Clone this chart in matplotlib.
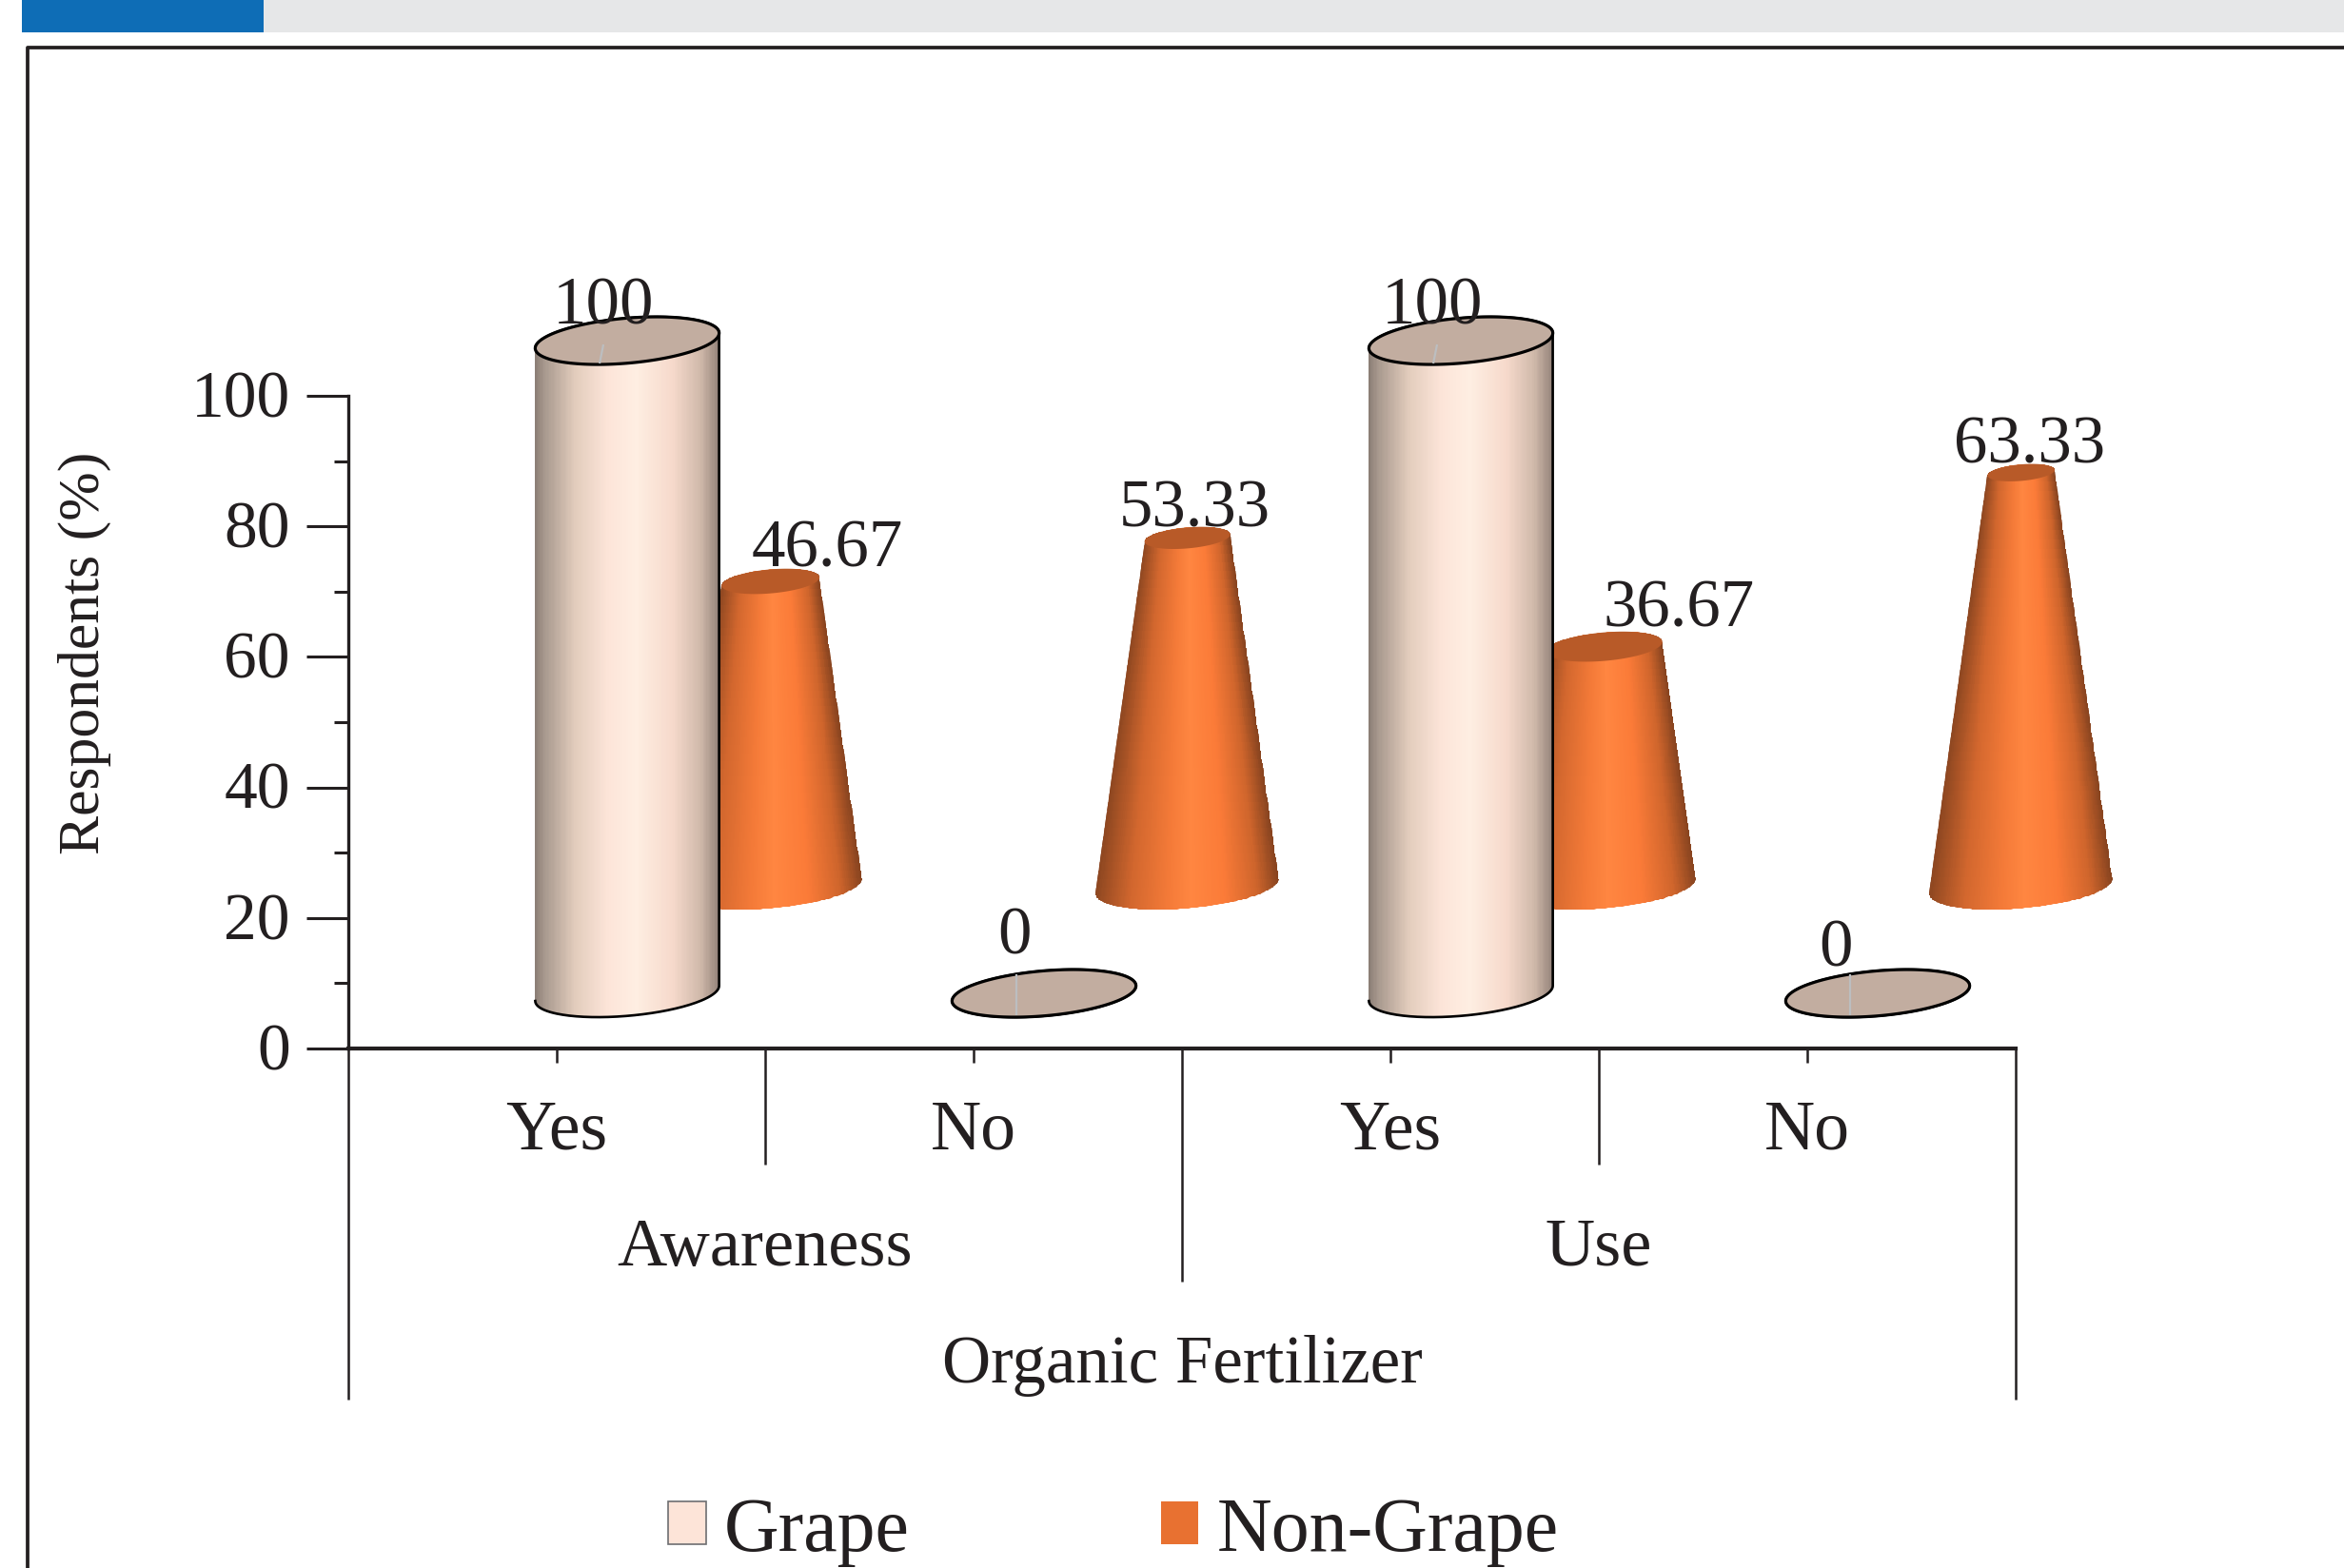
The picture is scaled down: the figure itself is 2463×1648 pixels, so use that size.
import numpy as np
import matplotlib
matplotlib.use('Agg')
import matplotlib.pyplot as plt
from matplotlib.colors import LinearSegmentedColormap
from matplotlib.patches import Patch, Rectangle, Polygon
from matplotlib.path import Path
from matplotlib.transforms import ScaledTranslation

answers = ['Yes', 'No', 'Yes', 'No']
groups = ['Awareness', 'Use']
title_below = 'Organic Fertilizer'
grape = [100, 0, 100, 0]
non_grape = [46.67, 53.33, 36.67, 63.33]

W, H = 2463, 1649
TEXT = '#231F20'
FS = 51
# pixels per unit on the two axes
PX_X = 438.0
PX_Y = 6.86

plt.rcParams['font.family'] = ['Liberation Serif', 'DejaVu Serif']

grape_cmap = LinearSegmentedColormap.from_list('grape', [
    (0.0, '#8c7f76'), (0.05, '#a8998e'), (0.22, '#e3cdbd'), (0.4, '#fde5d9'),
    (0.55, '#feeee2'), (0.75, '#f6d9cb'), (0.9, '#d0b9aa'), (1.0, '#94837a')])
cone_cmap = LinearSegmentedColormap.from_list('cone', [
    (0.0, '#8a4520'), (0.2, '#d2672e'), (0.4, '#f47a38'), (0.52, '#ff8641'),
    (0.7, '#fb7b38'), (0.88, '#cf652c'), (1.0, '#8a4520')])


def ellipse(cx, cy, hw, t):
    # tilted ellipse of the 3D bars, sizes scale with half width
    x = cx + hw * np.cos(t)
    y = cy + hw * 5.29 * np.cos(t) + hw * 15.66 * np.sin(t)
    return x, y


def draw_bar(ax, cx, base, value, hw, cmap, taper, z):
    top = base + value
    top_hw = hw * (1 - value / 100) if taper else hw
    t_low = np.linspace(np.pi, 2 * np.pi, 100)
    t_up = np.linspace(0, np.pi, 100)
    xl, yl = ellipse(cx, base, hw, t_low)
    xu, yu = ellipse(cx, top, top_hw, t_up)
    outline = np.column_stack([np.r_[xl, xu], np.r_[yl, yu]])

    # body shading follows the width of the bar at each height
    u = np.linspace(-1, 1, 161)
    ys = np.linspace(base - 12, top + 12, 60)
    widths = hw * (1 - (ys - base) / 100) if taper else np.full_like(ys, hw)
    X = cx + np.outer(widths, u)
    Y = np.outer(ys, np.ones_like(u))
    C = np.tile((u[:-1] + u[1:]) / 2, (len(ys) - 1, 1))
    mesh = ax.pcolormesh(X, Y, C, cmap=cmap, vmin=-1, vmax=1, shading='flat', zorder=z)
    mesh.set_clip_path(Path(outline, closed=False), ax.transData)
    mesh.set_clip_box(None)
    return outline, top, top_hw


fig = plt.figure(figsize=(W / 100, H / 100), dpi=100)

# header strip and frame of the journal page
fig.add_artist(Rectangle((23 / W, 1 - 35 / H), 254 / W, 35 / H, color='#0E6DB6', lw=0,
                         transform=fig.transFigure))
fig.add_artist(Rectangle((277 / W, 1 - 35 / H), (W - 277) / W, 35 / H, color='#E6E7E8', lw=0,
                         transform=fig.transFigure))
fig.add_artist(plt.Line2D([29 / W, 29 / W, 1], [0, 1 - 50.5 / H, 1 - 50.5 / H],
                          color=TEXT, lw=2.7, transform=fig.transFigure))

ax = fig.add_axes([366 / W, 1 - 1103 / H, 1752 / W, 686 / H])
ax.set_xlim(0, 4)
ax.set_ylim(0, 100)
ax.patch.set_alpha(0)

for s in ['top', 'right']:
    ax.spines[s].set_visible(False)
ax.spines['left'].set_linewidth(2.4)
ax.spines['bottom'].set_linewidth(3.0)
ax.spines['left'].set_color(TEXT)
ax.spines['bottom'].set_color(TEXT)

ax.set_yticks(np.arange(0, 101, 20))
ax.set_yticks(np.arange(0, 101, 10), minor=True)
ax.tick_params(axis='y', which='major', length=32, width=2.2, color=TEXT, pad=12,
               labelsize=50, labelcolor=TEXT)
ax.tick_params(axis='y', which='minor', length=11, width=2.2, color=TEXT)
for lab in ax.get_yticklabels():
    lab.set_transform(lab.get_transform() + ScaledTranslation(0, 3 / 100, fig.dpi_scale_trans))

centers = np.arange(len(answers)) + 0.5
ax.set_xticks(centers)
ax.set_xticklabels(answers)
ax.tick_params(axis='x', length=11, width=1.8, color=TEXT, pad=27.5, labelsize=53, labelcolor=TEXT)

ax.set_ylabel('Respondents (%)', fontsize=44.5, color=TEXT, va='center')
ax.yaxis.set_label_coords(-0.158, 0.608)

# multi level category axis
ax.vlines([1, 3], -17.8, 0, color=TEXT, lw=1.8, clip_on=False)
ax.vlines([2], -35.7, 0, color=TEXT, lw=1.8, clip_on=False)
ax.vlines([0, 4], -53.8, 0, color=TEXT, lw=1.8, clip_on=False)
ax.text(1, -30.5, groups[0], fontsize=52, color=TEXT, ha='center', va='center')
ax.text(3, -30.5, groups[1], fontsize=52, color=TEXT, ha='center', va='center')
ax.text(2, -48.4, title_below, fontsize=FS, color=TEXT, ha='center', va='center')

# 3D bars, cones sit behind the cylinders
cone_x = centers + 0.513
cone_base = 24.9
cone_hw = 0.2203
cone_dx = [60, 8, 78, 9]
cone_dy = [17, 13, 22, 11]
for i in range(len(non_grape)):
    outline, top, top_hw = draw_bar(ax, cone_x[i], cone_base, non_grape[i], cone_hw, cone_cmap, True, 2)
    xc, yc = ellipse(cone_x[i], top, top_hw, np.linspace(0, 2 * np.pi, 200))
    ax.add_patch(Polygon(np.column_stack([xc, yc]), closed=True, color='#B85A28', lw=0, zorder=2.5,
                         clip_on=False))
    ax.annotate(str(non_grape[i]), (cone_x[i], top), xytext=(cone_dx[i], cone_dy[i]),
                textcoords='offset pixels', ha='center', va='baseline', fontsize=FS, color=TEXT,
                annotation_clip=False, zorder=6)

grape_x = centers + 0.169
grape_base = 8.45
grape_hw = 0.2206
grape_dx = [-25, -31, -30, -44]
grape_dy = [19, 43, 19, 30]
leader_top = [4, -20, 4, -20]
leader_bottom = [24, 23, 24, 23]
leader_slant = [4, 0, 4, 0]
for i in range(len(grape)):
    outline, top, top_hw = draw_bar(ax, grape_x[i], grape_base, grape[i], grape_hw, grape_cmap, False, 3)
    xc, yc = ellipse(grape_x[i], top, top_hw, np.linspace(0, 2 * np.pi, 200))
    ax.add_patch(Polygon(np.column_stack([xc, yc]), closed=True, facecolor='#C2ADA0',
                         edgecolor='black', lw=2.3, zorder=3.5, clip_on=False))
    ax.plot(outline[:, 0], outline[:, 1], color='black', lw=1.9, zorder=3.4, clip_on=False)
    lx = grape_x[i] - 29 / PX_X
    ax.plot([lx, lx + leader_slant[i] / PX_X],
            [top - leader_bottom[i] / PX_Y, top - leader_top[i] / PX_Y],
            color='#BCBEC0', lw=1.6, zorder=4, solid_capstyle='butt', clip_on=False)
    ax.annotate(str(grape[i]), (grape_x[i], top), xytext=(grape_dx[i], grape_dy[i]),
                textcoords='offset pixels', ha='center', va='baseline', fontsize=FS, color=TEXT,
                annotation_clip=False, zorder=6)

handles = [Patch(facecolor='#FDE4D8', edgecolor='#6D6E71', lw=1.2, label='Grape'),
           Patch(facecolor='#E87131', edgecolor='none', label='Non-Grape')]
fig.legend(handles=handles, ncol=2, loc='lower left', bbox_to_anchor=(702 / W, 2 / H),
           frameon=False, fontsize=57.5, labelcolor=TEXT, borderpad=0, borderaxespad=0,
           handlelength=0.5, handleheight=0.5, handletextpad=0.24, columnspacing=3.3)

fig.savefig('out.png', dpi=100)
